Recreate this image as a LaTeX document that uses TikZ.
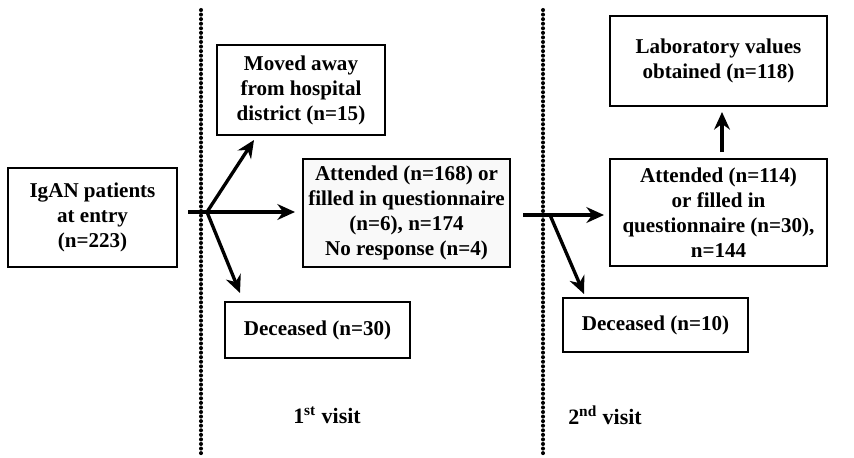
\documentclass[tikz,border=0pt]{standalone}
\usepackage{fontspec}
\setmainfont{Liberation Serif}
\usetikzlibrary{arrows.meta,positioning}

\begin{document}
\begin{tikzpicture}[x=0.02cm,y=-0.02cm,
  box/.style={draw,line width=1pt,align=center,inner sep=2pt,
    font=\bfseries\fontsize{12}{14.2}\selectfont},
  flow/.style={line width=1.9pt,-{Stealth[length=10pt,width=9pt]}},
  sep/.style={line width=2.3pt,line cap=round,dash pattern=on 0pt off 2.6pt}]
\useasboundingbox (0,0) rectangle (854,457);
% time lines
\draw[sep] (201,10) coordinate (v1top) -- (201,455) coordinate (v1bot);
\draw[sep] (543,10) coordinate (v2top) -- (543,455) coordinate (v2bot);
% boxes
\node[box,minimum width=3.38cm,minimum height=1.98cm] (entry) at (92.5,217.5) {IgAN patients\\at entry\\(n=223)};
\node[box,minimum width=3.36cm,minimum height=1.8cm] (moved) at (301,90) {Moved away\\from hospital\\district (n=15)};
\node[box,fill=gray!5,minimum width=4.14cm,minimum height=2.16cm] (att1) at (406.5,213) {Attended (n=168) or\\filled in questionnaire\\(n=6), n=174\\No response (n=4)};
\node[box,minimum width=3.7cm,minimum height=1.12cm] (dec1) at (317.5,330) {Deceased (n=30)};
\node[box,minimum width=4.34cm,minimum height=1.8cm] (lab) at (718.5,61) {Laboratory values\\obtained (n=118)};
\node[box,minimum width=4.34cm,minimum height=2.14cm] (att2) at (718.5,212.5) {Attended (n=114)\\or filled in\\questionnaire (n=30),\\n=144};
\node[box,minimum width=3.7cm,minimum height=1.08cm] (dec2) at (655.5,325) {Deceased (n=10)};
% visits
\node[font=\bfseries\fontsize{12.5}{15}\selectfont] (visit1) at (327,415) {1\textsuperscript{st} visit};
\node[font=\bfseries\fontsize{12.5}{15}\selectfont] (visit2) at (605,415) {2\textsuperscript{nd} visit};
% arrows, 1st visit
\coordinate (s1) at (188,212);
\coordinate (b1) at (207,212);
\coordinate (t1) at (295,212);
\coordinate (u1) at (254,140);
\coordinate (d1) at (240,293);
\draw[flow] (s1) -- (t1);
\draw[flow] (b1) -- (u1);
\draw[flow] (b1) -- (d1);
% arrows, 2nd visit
\coordinate (s2) at (523,215);
\coordinate (b2) at (550,215);
\coordinate (t2) at (604,215);
\coordinate (d2) at (584,294);
\draw[flow] (s2) -- (t2);
\draw[flow] (b2) -- (d2);
\coordinate (up0) at (722,152);
\coordinate (up1) at (722,112);
\draw[flow] (up0) -- (up1);
\end{tikzpicture}
\end{document}
